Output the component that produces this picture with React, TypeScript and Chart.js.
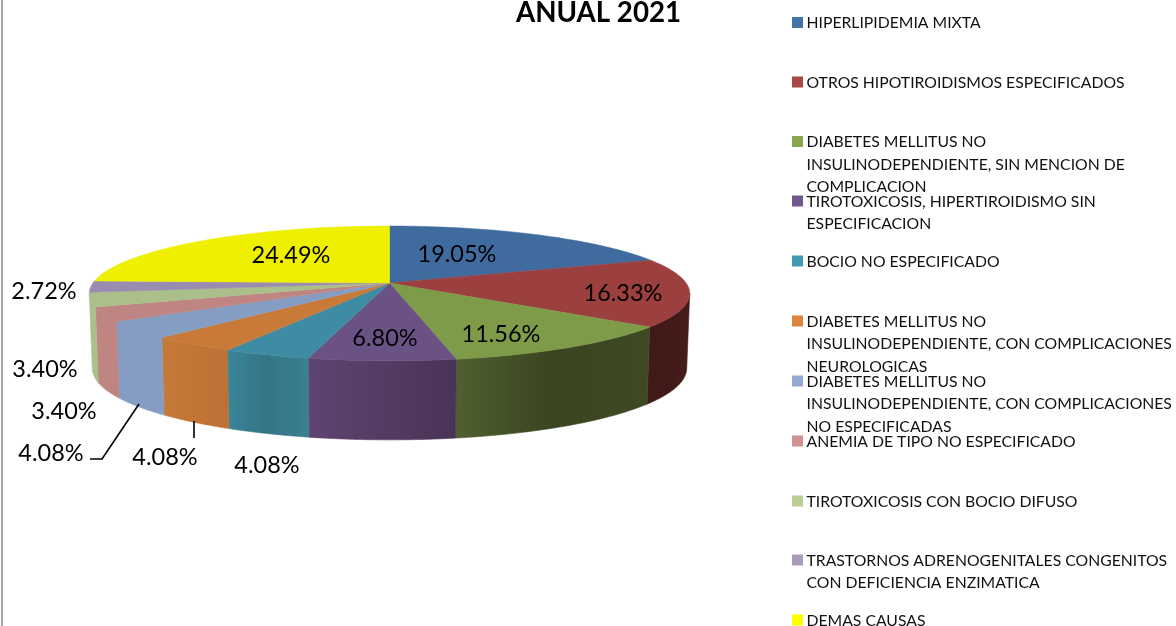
import React, { useEffect, useRef } from "react";
import { Chart, registerables } from "chart.js";

Chart.register(...registerables);

const categories = [
  "HIPERLIPIDEMIA MIXTA",
  "OTROS HIPOTIROIDISMOS ESPECIFICADOS",
  "DIABETES MELLITUS NO INSULINODEPENDIENTE, SIN MENCION DE COMPLICACION",
  "TIROTOXICOSIS, HIPERTIROIDISMO SIN ESPECIFICACION",
  "BOCIO NO ESPECIFICADO",
  "DIABETES MELLITUS NO INSULINODEPENDIENTE, CON COMPLICACIONES NEUROLOGICAS",
  "DIABETES MELLITUS NO INSULINODEPENDIENTE, CON COMPLICACIONES NO ESPECIFICADAS",
  "ANEMIA DE TIPO NO ESPECIFICADO",
  "TIROTOXICOSIS CON BOCIO DIFUSO",
  "TRASTORNOS ADRENOGENITALES CONGENITOS CON DEFICIENCIA ENZIMATICA",
  "DEMAS CAUSAS",
];
const values = [19.05, 16.33, 11.56, 6.8, 4.08, 4.08, 4.08, 3.4, 3.4, 2.72, 24.49];
const titleText = "ANUAL 2021";

const topColors = ["#3f6b9e", "#9c3f3f", "#7d9b48", "#6a5285", "#3e8ca4", "#c87a38", "#869dc3", "#be8583", "#abbf8a", "#9a8cb0", "#efef00"];
const swatchColors = ["#4572a7", "#aa4643", "#89a54e", "#71588f", "#4198af", "#db843d", "#93a9cf", "#d19392", "#b9cd96", "#a99bbd", "#ffff00"];
const wallColors = [
  ["#2c4a6e", "#2c4a6e"],
  ["#451c1a", "#3f1a18"],
  ["#3f4a22", "#3a4420", "#4f6030"],
  ["#483456", "#5e4470"],
  ["#3a8090", "#347585", "#398599"],
  ["#bc7236", "#c67937"],
  ["#869dc3", "#869dc3"],
  ["#be8583", "#be8583"],
  ["#abbf8a", "#abbf8a"],
  ["#9a8cb0", "#9a8cb0"],
  ["#efef00", "#efef00"],
];
const labelPos = [
  [457, 254], [623, 293], [501, 334], [385, 338], [267, 465], [165, 457],
  [51, 453], [64, 411], [45, 369], [44, 291], [291, 255],
];
const leaders = [
  [[139, 404], [102, 459], [90, 459]],
  [[194, 421], [194, 438]],
];
const legendLines = [
  ["HIPERLIPIDEMIA MIXTA"],
  ["OTROS HIPOTIROIDISMOS ESPECIFICADOS"],
  ["DIABETES MELLITUS NO", "INSULINODEPENDIENTE, SIN MENCION DE", "COMPLICACION"],
  ["TIROTOXICOSIS, HIPERTIROIDISMO SIN", "ESPECIFICACION"],
  ["BOCIO NO ESPECIFICADO"],
  ["DIABETES MELLITUS NO", "INSULINODEPENDIENTE, CON COMPLICACIONES", "NEUROLOGICAS"],
  ["DIABETES MELLITUS NO", "INSULINODEPENDIENTE, CON COMPLICACIONES", "NO ESPECIFICADAS"],
  ["ANEMIA DE TIPO NO ESPECIFICADO"],
  ["TIROTOXICOSIS CON BOCIO DIFUSO"],
  ["TRASTORNOS ADRENOGENITALES CONGENITOS", "CON DEFICIENCIA ENZIMATICA"],
  ["DEMAS CAUSAS"],
];
const legendY = [22.5, 82, 141.5, 201, 261, 321, 381, 441, 501, 560, 620];

const CX = 389.5, CY = 283, RX = 296.6, RY = 65.8, P = 0.155;

function project(a: number) {
  const u = Math.cos(a), v = Math.sin(a);
  const w = 1 - P * v;
  return { x: CX + (RX * u) / w, y: CY + (RY * v) / w, v };
}
function projectBottom(a: number) {
  const t = project(a);
  return { x: CX + (t.x - CX) * 0.99, y: t.y + 74 + 5 * Math.max(0, t.v) };
}

const pie3d = {
  id: "pie3d",
  beforeDatasetsDraw(chart: any) {
    const ctx: CanvasRenderingContext2D = chart.ctx;
    const arcs = chart.getDatasetMeta(0).data;
    const a0 = Math.asin(P), a1 = Math.PI - a0;
    ctx.save();
    // side walls
    arcs.forEach((arc: any, i: number) => {
      const s = Math.max(arc.startAngle, a0), e = Math.min(arc.endAngle, a1);
      if (e <= s) return;
      const n = 40;
      const tops = [], bots = [];
      for (let k = 0; k <= n; k++) {
        const a = s + ((e - s) * k) / n;
        tops.push(project(a));
        bots.push(projectBottom(a));
      }
      const xs = tops.map((p) => p.x);
      const g = ctx.createLinearGradient(Math.max(...xs), 0, Math.min(...xs), 0);
      const cols = wallColors[i];
      cols.forEach((c, k) => g.addColorStop(k / (cols.length - 1), c));
      ctx.beginPath();
      tops.forEach((p, k) => (k ? ctx.lineTo(p.x, p.y) : ctx.moveTo(p.x, p.y)));
      bots.reverse().forEach((p) => ctx.lineTo(p.x, p.y));
      ctx.closePath();
      ctx.fillStyle = g;
      ctx.strokeStyle = g;
      ctx.lineWidth = 0.6;
      ctx.fill();
      ctx.stroke();
    });
    // top face
    arcs.forEach((arc: any, i: number) => {
      const n = 80;
      ctx.beginPath();
      ctx.moveTo(CX, CY);
      for (let k = 0; k <= n; k++) {
        const p = project(arc.startAngle + ((arc.endAngle - arc.startAngle) * k) / n);
        ctx.lineTo(p.x, p.y);
      }
      ctx.closePath();
      ctx.fillStyle = arc.options.backgroundColor;
      ctx.strokeStyle = arc.options.backgroundColor;
      ctx.lineWidth = 0.5;
      ctx.fill();
      ctx.stroke();
    });
    ctx.restore();
    return false;
  },
  afterDraw(chart: any) {
    const ctx: CanvasRenderingContext2D = chart.ctx;
    ctx.save();
    // frame remnant on the left edge
    ctx.fillStyle = "#a6a6a6";
    ctx.fillRect(1, 0, 2, 626);
    // leader lines
    ctx.strokeStyle = "#000";
    ctx.lineWidth = 1.6;
    leaders.forEach((l) => {
      ctx.beginPath();
      l.forEach((p, k) => (k ? ctx.lineTo(p[0], p[1]) : ctx.moveTo(p[0], p[1])));
      ctx.stroke();
    });
    // data labels
    ctx.fillStyle = "#000";
    ctx.textAlign = "center";
    ctx.textBaseline = "middle";
    ctx.font = "23.5px Lato";
    values.forEach((v, i) => ctx.fillText(v.toFixed(2) + "%", labelPos[i][0], labelPos[i][1]));
    // title
    ctx.font = "bold 27.7px Lato";
    ctx.fillText(titleText, 598.5, 13);
    // legend
    ctx.textAlign = "left";
    ctx.font = "15.75px Lato";
    legendLines.forEach((lines, i) => {
      ctx.fillStyle = swatchColors[i];
      ctx.fillRect(792, legendY[i] - 5.5, 11, 11);
      ctx.fillStyle = "#111";
      lines.forEach((t, k) => ctx.fillText(t, 806.5, legendY[i] + 0.5 + 22.5 * k));
    });
    ctx.restore();
  },
};

export default function App() {
  const ref = useRef<HTMLCanvasElement>(null);
  useEffect(() => {
    const chart = new Chart(ref.current!, {
      type: "pie",
      data: {
        labels: categories,
        datasets: [{ data: values, backgroundColor: topColors, borderWidth: 0 }],
      },
      options: {
        responsive: false,
        animation: false,
        devicePixelRatio: 1,
        plugins: { legend: { display: false }, tooltip: { enabled: false } },
      },
      plugins: [pie3d],
    } as any);
    return () => chart.destroy();
  }, []);
  return (
    <div style={{ position: "absolute", left: 0, top: 0, width: 1176, height: 626, background: "#fff" }}>
      <canvas ref={ref} width={1176} height={626} style={{ display: "block" }} />
    </div>
  );
}
